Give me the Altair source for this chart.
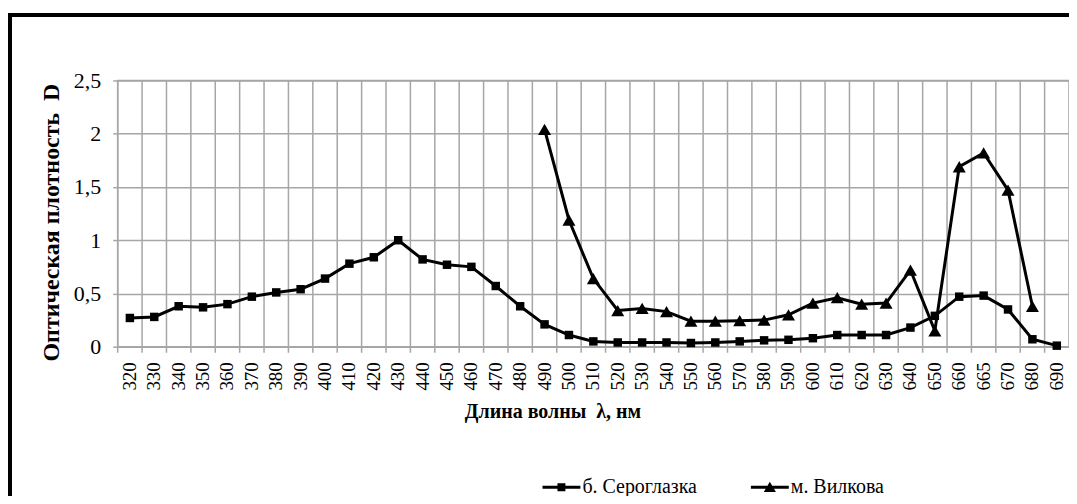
import altair as alt
import pandas as pd

wavelengths = ["320", "330", "340", "350", "360", "370", "380", "390", "400", "410",
               "420", "430", "440", "450", "460", "470", "480", "490", "500", "510",
               "520", "530", "540", "550", "560", "570", "580", "590", "600", "610",
               "620", "630", "640", "650", "660", "665", "670", "680", "690"]

seroglazka = [0.27, 0.28, 0.38, 0.37, 0.40, 0.47, 0.51, 0.54, 0.64, 0.78,
              0.84, 1.00, 0.82, 0.77, 0.75, 0.57, 0.38, 0.21, 0.11, 0.05,
              0.04, 0.04, 0.04, 0.035, 0.04, 0.05, 0.06, 0.065, 0.08, 0.11,
              0.11, 0.11, 0.18, 0.29, 0.47, 0.48, 0.35, 0.07, 0.01]

vilkova_wl = ["490", "500", "510", "520", "530", "540", "550", "560", "570", "580",
              "590", "600", "610", "620", "630", "640", "650", "660", "665", "670", "680"]
vilkova = [2.04, 1.19, 0.64, 0.34, 0.36, 0.33, 0.24, 0.24, 0.245, 0.25,
           0.30, 0.41, 0.46, 0.40, 0.41, 0.72, 0.15, 1.69, 1.82, 1.47, 0.38]

y_ticks = [0, 0.5, 1, 1.5, 2, 2.5]

s1_name = "б. Сероглазка"
s2_name = "м. Вилкова"

df1 = pd.DataFrame({"wl": wavelengths, "D": seroglazka, "series": s1_name})
df2 = pd.DataFrame({"wl": vilkova_wl, "D": vilkova, "series": s2_name})
df = pd.concat([df1, df2], ignore_index=True)
cats = pd.DataFrame({"wl": wavelengths})

W, H = 954, 267
FONT = "Liberation Serif"
GRID = "#a6a6a6"

xscale = alt.Scale(type="band", domain=wavelengths, paddingInner=0, paddingOuter=0)
yscale = alt.Scale(domain=[0, 2.5])

x_enc = alt.X("wl:O", scale=xscale, sort=wavelengths,
              axis=alt.Axis(title="Длина волны\u00a0 λ, нм", labelAngle=270, labelAlign="right",
                            labelBaseline="middle", labelFont=FONT, labelFontSize=19,
                            labelColor="black", labelPadding=15, ticks=False, tickSize=0,
                            domain=False, grid=False,
                            titleFont=FONT, titleFontSize=20, titleFontWeight="bold",
                            titleColor="black", titleX=436, titleY=65,
                            titleAnchor="start", titleAlign="center", titleBaseline="middle"))
y_enc = alt.Y("D:Q", scale=yscale,
              axis=alt.Axis(title="Оптическая плотность\u00a0 D", values=y_ticks,
                            labelExpr="replace(format(datum.value, '~g'), '.', ',')",
                            labelFont=FONT, labelFontSize=22, labelColor="black",
                            labelPadding=12, tickSize=5, tickColor=GRID, tickWidth=1.5,
                            domain=False, grid=True, gridColor=GRID, gridWidth=1.5,
                            titleFont=FONT, titleFontSize=24, titleFontWeight="bold",
                            titleColor="black", titlePadding=10, titleY=142))

frame_left = alt.Chart(cats).mark_rule(color="black", strokeWidth=3).encode(
    x=alt.value(-108), y=alt.value(-67), y2=alt.value(430))
frame_top = alt.Chart(cats).mark_rule(color="black", strokeWidth=3).encode(
    x=alt.value(-109.5), x2=alt.value(W), y=alt.value(-65.5))

vgrid = alt.Chart(cats).mark_rule(color=GRID, strokeWidth=1.5).encode(
    x=alt.X("wl:O", scale=xscale, sort=wavelengths, bandPosition=0),
    y=alt.value(0), y2=alt.value(H + 6))

line = alt.Chart(df).mark_line(color="black", strokeWidth=3).encode(
    x=x_enc, y=y_enc, detail="series:N")

pts1 = alt.Chart(df1).mark_point(shape="square", filled=True, color="black",
                                 size=72, opacity=1).encode(x=x_enc, y=y_enc)
pts2 = alt.Chart(df2).mark_point(shape="triangle-up", filled=True, color="black",
                                 size=170, opacity=1).encode(x=x_enc, y=y_enc)

leg_sq = "M-1,-0.08H1V0.08H-1Z M-0.21,-0.21H0.21V0.21H-0.21Z"
leg_tr = "M-1,-0.08H1V0.08H-1Z M0,-0.3L0.32,0.24L-0.32,0.24Z"

legend_layer = alt.Chart(df).mark_point(filled=True, opacity=0, color="black").encode(
    x=x_enc, y=y_enc,
    shape=alt.Shape("series:N", sort=[s1_name, s2_name],
                    scale=alt.Scale(domain=[s1_name, s2_name], range=[leg_sq, leg_tr]),
                    legend=alt.Legend(title=None, orient="none", direction="horizontal",
                                      legendX=426, legendY=389, symbolSize=1444,
                                      symbolOpacity=1, symbolFillColor="black",
                                      symbolStrokeColor="black", symbolStrokeWidth=0,
                                      labelFont=FONT, labelFontSize=20, labelColor="black",
                                      labelOffset=2, columnPadding=54)))

chart = alt.layer(frame_left, frame_top, vgrid, line, pts1, pts2, legend_layer).properties(
    width=W, height=H, autosize="none",
    padding={"left": 110, "top": 72, "right": 0, "bottom": 149},
    background="white"
).configure_view(stroke=GRID, strokeWidth=1.5)

chart.save("out.html", embed_options={"renderer": "svg", "actions": False})
